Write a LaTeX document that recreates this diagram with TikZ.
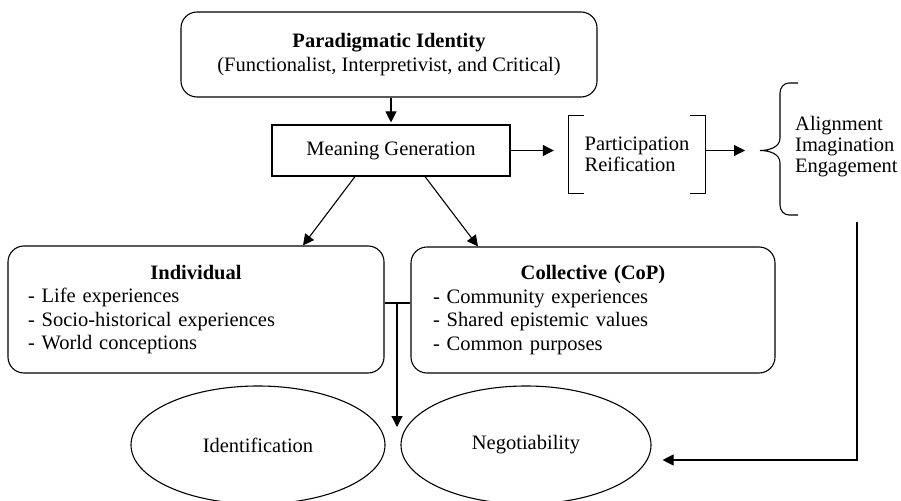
\documentclass[tikz,border=0pt]{standalone}
\usepackage{fontspec}
\setmainfont{Liberation Serif}
\usetikzlibrary{arrows.meta,shapes.geometric}
\tikzset{
  link/.style={line width=1.1pt},
  arr/.style={link,-{Triangle[length=11pt,width=11pt]}},
  box/.style={draw,line width=1.1pt,inner sep=0pt,align=center},
  roundbox/.style={box,rounded corners=16pt},
  oval/.style={draw,ellipse,line width=1.1pt,inner sep=0pt},
  tight/.style={inner sep=0pt,align=left,font=\fontsize{20.5}{21}\selectfont}
}

\begin{document}
\begin{tikzpicture}[x=1pt,y=-1pt,font=\fontsize{20.5}{23.5}\selectfont]
\useasboundingbox (0,0) rectangle (901,500);
\node[roundbox,minimum width=416pt,minimum height=85pt,font=\fontsize{20.5}{24}\selectfont] (para) at (389,54.5) {\textbf{Paradigmatic Identity}\\(Functionalist, Interpretivist, and Critical)};
\node[box,minimum width=238pt,minimum height=51pt] (meaning) at (391,150.5) {Meaning Generation};
\node[tight,minimum width=137pt,minimum height=77pt] (partic) at (637,154.5) {Participation\\Reification};
\node[tight,anchor=west] (modes) at (795,147) {Alignment\\Imagination\\Engagement};
\node[roundbox,minimum width=376pt,minimum height=127pt,text width=336pt,align=left] (indiv) at (196,309.5) {\makebox[\linewidth]{\textbf{Individual}}\\- Life experiences\\- Socio-historical experiences\\- World conceptions};
\node[roundbox,minimum width=364pt,minimum height=126pt,text width=320pt,align=left] (coll) at (593,310) {\makebox[\linewidth]{\textbf{Collective (CoP)}}\\- Community experiences\\- Shared epistemic values\\- Common purposes};
\node[oval,minimum width=254pt,minimum height=118pt] (ident) at (258,445) {Identification};
\node[oval,minimum width=250pt,minimum height=118pt] (nego) at (526,445) {Negotiability};
\coordinate (tip) at (760,150.5);
\coordinate (join) at (397,303);
\coordinate (drop) at (397,427);
\coordinate (fb) at (857,222);
\draw[link] ([xshift=16pt]partic.north west) -- (partic.north west) -- (partic.south west) -- ++(16,0);
\draw[link] ([xshift=-16pt]partic.north east) -- (partic.north east) -- (partic.south east) -- ++(-16,0);
\draw[link] (798,83) -- (789,83) to[out=180,in=90] (780,93) -- (780,138) to[out=270,in=0] (tip) to[out=0,in=90] (780,163) -- (780,205) to[out=270,in=180] (789,215) -- (798,215);
\draw[arr] (meaning.north |- para.south) -- ([yshift=2pt]meaning.north);
\draw[arr] (meaning.east) -- ([xshift=-14.5pt]partic.west |- meaning.east);
\draw[arr] (partic.east |- tip) -- ([xshift=-15pt]tip);
\draw[arr] ([xshift=-36pt]meaning.south) -- ([xshift=107pt]indiv.north);
\draw[arr] ([xshift=34pt]meaning.south) -- ([xshift=-115pt]coll.north);
\draw[link] (indiv.east |- join) -- (coll.west |- join);
\draw[arr] (join) -- (drop);
\draw[arr] (fb) |- ([xshift=11pt,yshift=-15pt]nego.east);
\end{tikzpicture}
\end{document}
